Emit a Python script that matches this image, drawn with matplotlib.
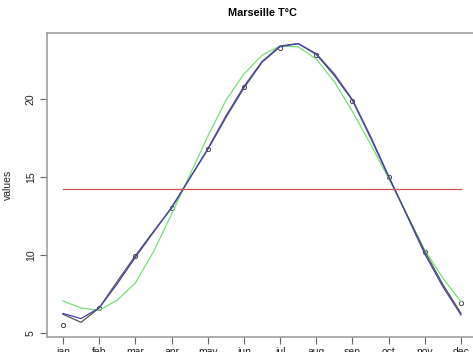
import numpy as np
import matplotlib

matplotlib.use('Agg')
import matplotlib.pyplot as plt

plt.rcParams['font.family'] = ['Liberation Sans', 'DejaVu Sans']

months = ['jan', 'feb', 'mar', 'apr', 'may', 'jun',
          'jul', 'aug', 'sep', 'oct', 'nov', 'dec']
temps = [5.5, 6.6, 9.95, 13.0, 16.8, 20.8, 23.3, 22.8, 19.9, 15.0, 10.2, 6.9]

# curves, every half month from jan to dec
curve_x = [1, 1.5, 2, 2.5, 3, 3.5, 4, 4.5, 5, 5.5, 6, 6.5,
           7, 7.5, 8, 8.5, 9, 9.5, 10, 10.5, 11, 11.5, 12]
black_curve = [6.2, 5.68, 6.6, 8.3, 9.95, 11.5, 13.0, 14.9, 16.8, 18.9, 20.8, 22.4,
               23.4, 23.55, 22.85, 21.5, 19.9, 17.5, 15.0, 12.6, 10.2, 8.1, 6.25]
blue_curve = [6.25, 5.92, 6.6, 8.15, 9.85, 11.45, 13.05, 14.9, 16.75, 18.8, 20.7, 22.35,
              23.35, 23.55, 22.9, 21.6, 19.95, 17.6, 15.05, 12.55, 10.05, 7.95, 6.15]
green_curve = [7.05, 6.6, 6.45, 7.1, 8.2, 10.2, 12.6, 15.1, 17.6, 19.9, 21.6, 22.8,
               23.4, 23.35, 22.55, 21.1, 19.2, 17.1, 14.9, 12.6, 10.3, 8.5, 7.0]

x = np.arange(1, 13)
mean_temp = np.mean(temps)

fig = plt.figure(figsize=(4.73, 3.52), dpi=100)
ax = fig.add_axes([47 / 473, 15 / 352, 430 / 473, 304 / 352])

ax.plot(x, temps, 'o', mfc='none', mec='#444444', ms=3, mew=0.7)
ax.plot(curve_x, green_curve, color='#77e077', lw=0.9)
ax.plot(curve_x, black_curve, color='#555555', lw=0.9)
ax.plot(curve_x, blue_curve, color='#4444aa', lw=0.9)
ax.plot([1, 12], [mean_temp, mean_temp], color='#cc5555', lw=0.9)

ax.set_xlim(0.56, 12.44)
ax.set_ylim(4.74, 24.23)
ax.set_xticks(x)
ax.set_xticklabels(months)
ax.set_yticks([5, 10, 15, 20])
ax.tick_params(axis='both', direction='out', length=5, width=0.8,
               color='#666666', labelsize=7.5, labelcolor='#222222')
ax.tick_params(axis='x', pad=2.5)
ax.tick_params(axis='y', pad=3)
for lab in ax.get_yticklabels():
    lab.set_rotation(90)
    lab.set_va('center')

for s in ax.spines.values():
    s.set_color('#a0a0a0')
    s.set_linewidth(1.2)

ax.set_ylabel('values', fontsize=7.5, color='#222222', labelpad=9)
ax.set_title('Marseille T°C', fontsize=7.8, fontweight='bold', pad=12)

fig.savefig('out.png', dpi=100)
